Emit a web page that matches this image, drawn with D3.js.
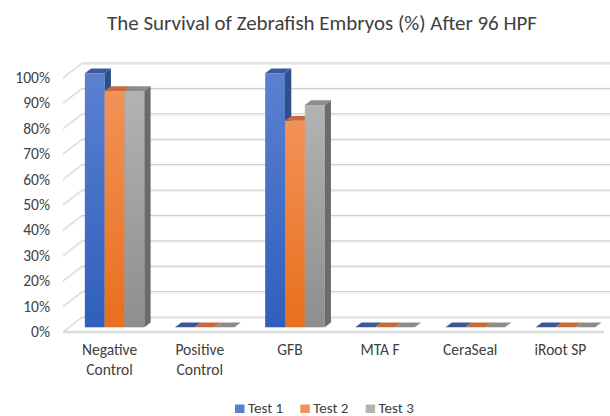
<!doctype html>
<html lang="en">
<head>
  <meta charset="utf-8">
  <title>Survival of Zebrafish Embryos</title>
  <script src="https://d3js.org/d3.v7.min.js"></script>
  <style type="text/css">
    body { margin: 0; background: #fff; }
    text { font-family: Calibri, Carlito, Lato, sans-serif; fill: #404040; }
  </style>
</head>
<body>
  <div id="chart"></div>
  <script type="text/javascript">

    // data (survival, fraction of embryos)
    var categories = ['Negative Control', 'Positive Control', 'GFB', 'MTA F', 'CeraSeal', 'iRoot SP'];
    var series = ['Test 1', 'Test 2', 'Test 3'];
    var test1 = [1.00, 0, 1.00, 0, 0, 0];
    var test2 = [0.93, 0, 0.813, 0, 0, 0];
    var test3 = [0.93, 0, 0.875, 0, 0, 0];
    var yTicks = [0, 0.1, 0.2, 0.3, 0.4, 0.5, 0.6, 0.7, 0.8, 0.9, 1.0];
    var colors = {
      'Test 1': {top: '#5b80d0', bottom: '#2f5fbd', side: '#2f4f8c', cap: '#3b5898'},
      'Test 2': {top: '#f39257', bottom: '#e86f1c', side: '#b5581c', cap: '#c66a3a'},
      'Test 3': {top: '#b3b3b3', bottom: '#8e8e8e', side: '#6b6b6b', cap: '#8c8c8c'}
    };
    var values = {'Test 1': test1, 'Test 2': test2, 'Test 3': test3};

    var width = 610, height = 416;
    var font = 'Calibri, Carlito, Lato, sans-serif';

    // the 3d box: front plane and a depth offset to the back wall
    var depth = {dx: 19, dy: -14.5};
    var barFront = 0.29, barBack = 0.62;

    var svg = d3.select('#chart').append('svg')
        .attr('width', width)
        .attr('height', height);

    var x = d3.scaleBand().domain(categories).range([63, 604]);
    var y = d3.scaleLinear().domain([0, 1]).range([331.5, 77.5]);
    var groupW = 59.5;
    var xs = d3.scaleBand().domain(series).range([0, groupW]);

    // gradients for bar faces
    var defs = svg.append('defs');
    series.forEach(function(s, i) {
      var g = defs.append('linearGradient').attr('id', 'front' + i)
          .attr('x1', 0).attr('y1', 0).attr('x2', 0).attr('y2', 1);
      g.append('stop').attr('offset', '0%').attr('stop-color', colors[s].top);
      g.append('stop').attr('offset', '100%').attr('stop-color', colors[s].bottom);
    });

    // back wall gridlines (drawn doubled, like the 3d ones)
    var grid = svg.append('g');
    grid.selectAll('.gb').data(yTicks).enter().append('line')
        .attr('x1', 63 + depth.dx).attr('x2', width)
        .attr('y1', function(d) { return y(d) + depth.dy; })
        .attr('y2', function(d) { return y(d) + depth.dy; })
        .attr('stroke', '#c9c9c9').attr('stroke-width', 1);
    grid.selectAll('.gb2').data(yTicks).enter().append('line')
        .attr('x1', 63 + depth.dx).attr('x2', width)
        .attr('y1', function(d) { return y(d) + depth.dy + 1.5; })
        .attr('y2', function(d) { return y(d) + depth.dy + 1.5; })
        .attr('stroke', '#ececec').attr('stroke-width', 1);

    // left wall diagonals
    grid.selectAll('.gl').data(yTicks).enter().append('line')
        .attr('x1', 63).attr('x2', 63 + depth.dx)
        .attr('y1', function(d) { return y(d); })
        .attr('y2', function(d) { return y(d) + depth.dy; })
        .attr('stroke', '#cccccc').attr('stroke-width', 1);
    grid.selectAll('.gl2').data(yTicks).enter().append('line')
        .attr('x1', 63).attr('x2', 63 + depth.dx)
        .attr('y1', function(d) { return y(d) + 1.5; })
        .attr('y2', function(d) { return y(d) + depth.dy + 1.5; })
        .attr('stroke', '#ececec').attr('stroke-width', 1);

    // floor front edge
    svg.append('line')
        .attr('x1', 63).attr('x2', 604)
        .attr('y1', y(0) + 0.5).attr('y2', y(0) + 0.5)
        .attr('stroke', '#dcdcdc').attr('stroke-width', 2.5);

    // bars
    var fdx = depth.dx * barFront, fdy = depth.dy * barFront;
    var bdx = depth.dx * (barBack - barFront), bdy = depth.dy * (barBack - barFront);
    var bars = svg.append('g');
    categories.forEach(function(c, ci) {
      var gx = x(c) + (x.bandwidth() - groupW) / 2 + fdx + 1;
      series.forEach(function(s, si) {
        var v = values[s][ci];
        var x0 = gx + xs(s), x1 = x0 + xs.bandwidth();
        var yb = y(0) + fdy, yt = y(v) + fdy;
        var b = bars.append('g');
        if (v > 0) {
          b.append('rect')
              .attr('x', x0).attr('y', yt)
              .attr('width', x1 - x0).attr('height', yb - yt)
              .attr('fill', 'url(#front' + si + ')');
          b.append('path')
              .attr('d', 'M' + x1 + ',' + yt + 'L' + (x1 + bdx) + ',' + (yt + bdy) +
                'L' + (x1 + bdx) + ',' + (yb + bdy) + 'L' + x1 + ',' + yb + 'Z')
              .attr('fill', colors[s].side);
        }
        b.append('path')
            .attr('d', 'M' + x0 + ',' + yt + 'L' + x1 + ',' + yt +
              'L' + (x1 + bdx) + ',' + (yt + bdy) + 'L' + (x0 + bdx) + ',' + (yt + bdy) + 'Z')
            .attr('fill', colors[s].cap);
      });
    });

    // y axis labels
    var yAxis = svg.append('g')
        .attr('transform', 'translate(50,0)')
        .call(d3.axisLeft(y).tickValues(yTicks).tickFormat(d3.format('.0%')).tickSize(0).tickPadding(0));
    yAxis.select('.domain').remove();
    yAxis.selectAll('text').attr('fill', '#404040').style('font-size', '15.5px')
        .style('font-family', font);

    // category labels, wrapped on two lines if too wide
    var xAxis = svg.append('g')
        .attr('transform', 'translate(1.5,' + (y(0) + 12.5) + ')')
        .call(d3.axisBottom(x).tickSize(0).tickPadding(0));
    xAxis.select('.domain').remove();
    xAxis.selectAll('text')
        .attr('fill', '#404040').style('font-size', '15.5px')
        .style('font-family', font)
        .each(function(d) {
          var t = d3.select(this);
          if (this.getComputedTextLength() > 80) {
            var words = d.split(' ');
            t.text(null);
            words.forEach(function(w, i) {
              t.append('tspan').attr('x', 0).attr('dy', i === 0 ? '0.71em' : '1.3em').text(w);
            });
          }
        });

    // title, sized to the width it has in the picture
    var title = svg.append('text')
        .attr('x', 322).attr('y', 30)
        .attr('text-anchor', 'middle')
        .style('font-size', '18px')
        .text('The Survival of Zebrafish Embryos (%) After 96 HPF');
    var tw = title.node().getComputedTextLength();
    title.style('font-size', (18 * 430 / tw) + 'px');

    // legend
    var legend = svg.append('g').selectAll('g').data(series).enter().append('g')
        .attr('transform', function(d, i) { return 'translate(' + (235 + i * 65.3) + ',404.5)'; });
    legend.append('rect')
        .attr('width', 9.5).attr('height', 8.5)
        .attr('fill', function(d) { return colors[d].top; });
    legend.append('text')
        .attr('x', 13).attr('y', 8.5)
        .style('font-size', '15px')
        .text(function(d) { return d; });

  </script>
</body>
</html>
